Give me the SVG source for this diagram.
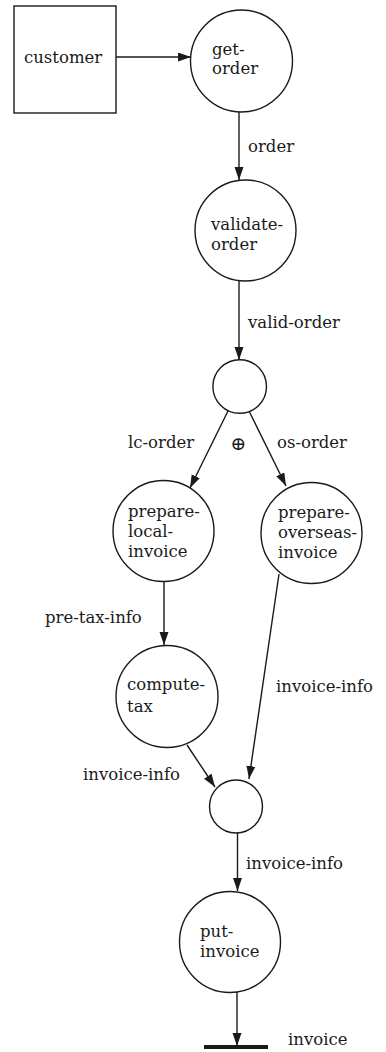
<svg xmlns="http://www.w3.org/2000/svg" width="386" height="1052" viewBox="0 0 386 1052">
  <style>
    .node { fill: #ffffff; stroke: #1a1a1a; stroke-width: 1.4; }
    .flow { fill: none; stroke: #1a1a1a; stroke-width: 1.4; marker-end: url(#arrow); }
    text { font-family: "DejaVu Serif", "Liberation Serif", serif; font-size: 16.5px; fill: #1a1a1a; }
    .op { font-size: 19px; }
  </style>
  <defs>
    <marker id="arrow" markerUnits="userSpaceOnUse" markerWidth="14" markerHeight="10" refX="13" refY="4.5" orient="auto">
      <path d="M0,0 L13,4.5 L0,9 z" fill="#1a1a1a"/>
    </marker>
  </defs>

  <rect width="386" height="1052" fill="#ffffff"/>

  <!-- connectors -->
  <g id="connectors">
    <line class="flow" x1="116" y1="57" x2="191" y2="57"/>
    <line class="flow" x1="239" y1="112" x2="239" y2="180"/>
    <line class="flow" x1="239" y1="281" x2="239" y2="360"/>
    <line class="flow" x1="228" y1="411" x2="190" y2="488"/>
    <line class="flow" x1="249" y1="411" x2="286" y2="486"/>
    <line class="flow" x1="164" y1="582" x2="164" y2="645"/>
    <line class="flow" x1="279" y1="574" x2="249" y2="779"/>
    <line class="flow" x1="187" y1="745" x2="215" y2="787"/>
    <line class="flow" x1="237.5" y1="833" x2="237.5" y2="891"/>
    <line class="flow" x1="237" y1="992" x2="237" y2="1046"/>
    <line x1="204" y1="1047" x2="268" y2="1047" stroke="#1a1a1a" stroke-width="4"/>
    <text x="248" y="152">order</text>
    <text x="248" y="328">valid-order</text>
    <text x="128" y="448">lc-order</text>
    <text class="op" x="238.5" y="450" text-anchor="middle">⊕</text>
    <text x="277" y="448">os-order</text>
    <text x="45" y="623">pre-tax-info</text>
    <text x="276" y="692">invoice-info</text>
    <text x="83" y="780">invoice-info</text>
    <text x="246" y="869">invoice-info</text>
    <text x="288" y="1045">invoice</text>
  </g>

  <g id="customer">
    <rect class="node" x="14" y="6" width="102" height="107"/>
    <text x="24" y="63">customer</text>
  </g>

  <g id="get-order">
    <circle class="node" cx="241.5" cy="61" r="51"/>
    <text x="212" y="55">get-</text>
    <text x="212" y="74">order</text>
  </g>

  <g id="validate-order">
    <circle class="node" cx="245.5" cy="230.5" r="50.5"/>
    <text x="211" y="230">validate-</text>
    <text x="211" y="250">order</text>
  </g>

  <g id="split">
    <circle class="node" cx="239.7" cy="386.5" r="26.8"/>
  </g>

  <g id="prepare-local-invoice">
    <circle class="node" cx="163.5" cy="531" r="50.5"/>
    <text x="128" y="517">prepare-</text>
    <text x="128" y="537">local-</text>
    <text x="128" y="557">invoice</text>
  </g>

  <g id="prepare-overseas-invoice">
    <circle class="node" cx="311.5" cy="533" r="50.5"/>
    <text x="278" y="518">prepare-</text>
    <text x="278" y="538">overseas-</text>
    <text x="278" y="558">invoice</text>
  </g>

  <g id="compute-tax">
    <circle class="node" cx="167" cy="696.5" r="51"/>
    <text x="127" y="690">compute-</text>
    <text x="127" y="712">tax</text>
  </g>

  <g id="merge">
    <circle class="node" cx="236" cy="806.5" r="26.5"/>
  </g>

  <g id="put-invoice">
    <circle class="node" cx="230" cy="942" r="50.5"/>
    <text x="200" y="937">put-</text>
    <text x="200" y="957">invoice</text>
  </g>
</svg>
